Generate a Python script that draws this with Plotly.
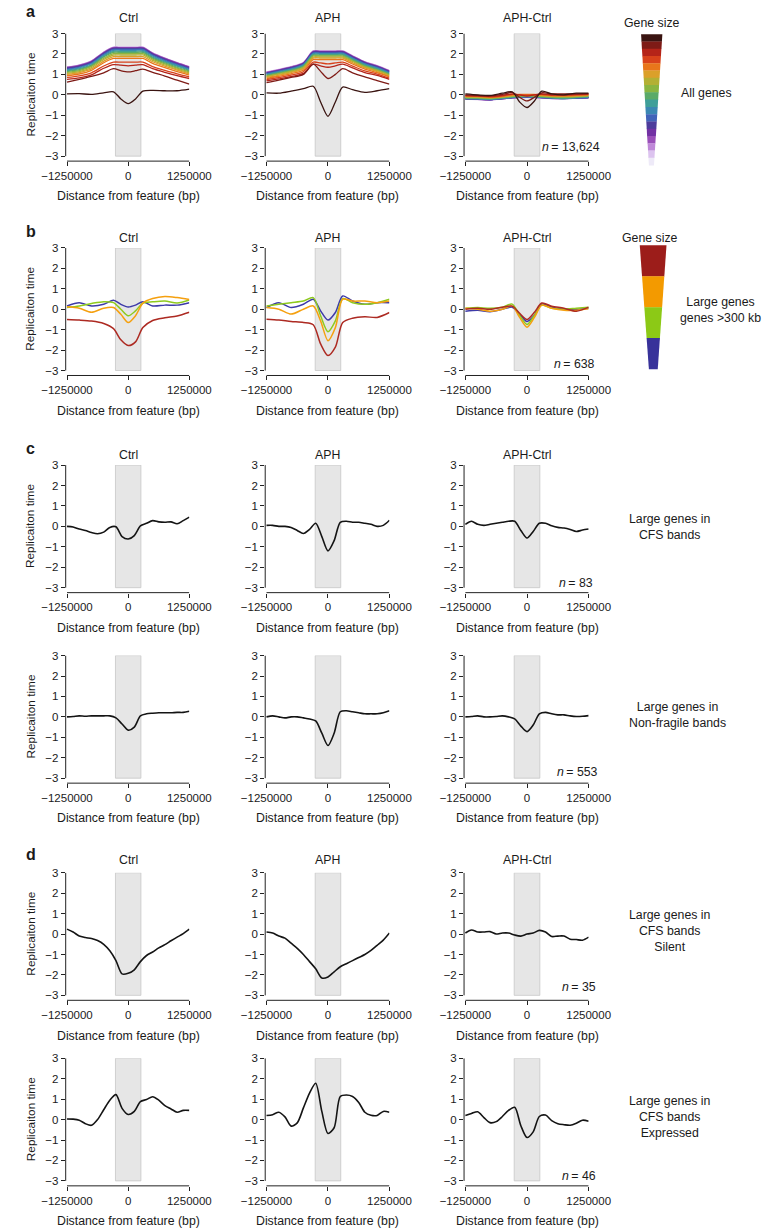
import plotly.graph_objects as go

W, H = 781, 1230

# ---------------- data ----------------
XA_KB = [-1250, -1000, -750, -500, -300, -150, 0, 150, 300, 500, 750, 1000, 1250]
XC_KB = [-1250, -1125, -1000, -875, -750, -625, -500, -375, -250, -125, 0,
         125, 250, 375, 500, 625, 750, 875, 1000, 1125, 1250]
X_TICKS = [-1250000, 0, 1250000]
X_TICK_LABELS = ["\u22121250000", "0", "1250000"]
Y_TICKS = [-3, -2, -1, 0, 1, 2, 3]
Y_TICK_LABELS = ["\u22123", "\u22122", "\u22121", "0", "1", "2", "3"]
BAND_BP = [-260000, 260000]
PANEL_TITLES = ["Ctrl", "APH", "APH-Ctrl"]

# Gene-size palette (largest genes first)
GENE_SIZE_COLORS = ["#3a1411", "#7e1b16", "#b52419", "#d8421b", "#e8761b", "#dba02a",
                    "#b3b034", "#8ab541", "#5aaa68", "#3f9f99", "#3b87b3", "#4163b9",
                    "#4d3c9c", "#7231a3", "#9a4fb9", "#bf88d8", "#dcc3ef", "#eeeaf8"]

ALL_CTRL = [
    [0.05, 0.06, 0.02, 0.10, 0.15, -0.20, -0.43, -0.20, 0.18, 0.22, 0.20, 0.20, 0.28],
    [0.62, 0.76, 0.90, 1.08, 1.28, 1.18, 1.12, 1.18, 1.26, 1.10, 0.92, 0.72, 0.53],
    [0.76, 0.83, 0.98, 1.30, 1.48, 1.45, 1.42, 1.45, 1.48, 1.28, 1.10, 0.94, 0.80],
    [0.85, 0.93, 1.08, 1.41, 1.60, 1.60, 1.60, 1.60, 1.60, 1.38, 1.20, 1.03, 0.88],
    [0.94, 1.02, 1.20, 1.57, 1.78, 1.78, 1.78, 1.78, 1.78, 1.54, 1.33, 1.14, 0.97],
    [1.00, 1.09, 1.27, 1.65, 1.87, 1.87, 1.87, 1.87, 1.87, 1.62, 1.40, 1.21, 1.03],
    [1.05, 1.14, 1.33, 1.73, 1.95, 1.95, 1.95, 1.95, 1.95, 1.69, 1.46, 1.26, 1.08],
    [1.10, 1.19, 1.39, 1.79, 2.02, 2.02, 2.02, 2.02, 2.02, 1.75, 1.52, 1.31, 1.12],
    [1.14, 1.23, 1.43, 1.85, 2.08, 2.08, 2.08, 2.08, 2.08, 1.80, 1.56, 1.35, 1.16],
    [1.18, 1.28, 1.47, 1.89, 2.13, 2.13, 2.13, 2.13, 2.13, 1.85, 1.61, 1.40, 1.20],
    [1.22, 1.32, 1.52, 1.94, 2.18, 2.18, 2.18, 2.18, 2.18, 1.90, 1.65, 1.44, 1.24],
    [1.26, 1.36, 1.56, 1.98, 2.22, 2.22, 2.22, 2.22, 2.22, 1.94, 1.69, 1.48, 1.28],
    [1.29, 1.39, 1.59, 2.02, 2.26, 2.26, 2.26, 2.26, 2.26, 1.98, 1.73, 1.51, 1.31],
    [1.32, 1.42, 1.62, 2.05, 2.29, 2.29, 2.29, 2.29, 2.29, 2.01, 1.76, 1.54, 1.34],
    [1.34, 1.44, 1.64, 2.07, 2.31, 2.31, 2.31, 2.31, 2.31, 2.03, 1.78, 1.56, 1.36],
    [1.35, 1.45, 1.65, 2.08, 2.32, 2.32, 2.32, 2.32, 2.32, 2.04, 1.79, 1.57, 1.37],
    [1.36, 1.46, 1.66, 2.09, 2.33, 2.33, 2.33, 2.33, 2.33, 2.05, 1.80, 1.58, 1.38],
    [1.37, 1.47, 1.67, 2.10, 2.34, 2.34, 2.34, 2.34, 2.34, 2.06, 1.81, 1.59, 1.39],
]
ALL_APH = [
    [0.10, 0.08, 0.18, 0.30, 0.42, -0.35, -1.05, -0.35, 0.38, 0.25, 0.12, 0.20, 0.30],
    [0.60, 0.72, 0.85, 1.00, 1.50, 1.15, 0.80, 1.00, 1.28, 1.08, 0.88, 0.70, 0.52],
    [0.68, 0.78, 0.89, 1.05, 1.50, 1.42, 1.35, 1.42, 1.50, 1.32, 1.09, 0.95, 0.76],
    [0.74, 0.84, 0.96, 1.13, 1.60, 1.56, 1.52, 1.56, 1.60, 1.41, 1.17, 1.02, 0.82],
    [0.80, 0.91, 1.03, 1.21, 1.72, 1.72, 1.72, 1.72, 1.72, 1.51, 1.26, 1.09, 0.88],
    [0.85, 0.96, 1.09, 1.28, 1.80, 1.80, 1.80, 1.80, 1.80, 1.58, 1.32, 1.14, 0.92],
    [0.89, 1.01, 1.13, 1.32, 1.85, 1.85, 1.85, 1.85, 1.85, 1.63, 1.36, 1.18, 0.95],
    [0.92, 1.04, 1.17, 1.36, 1.90, 1.90, 1.90, 1.90, 1.90, 1.67, 1.39, 1.21, 0.98],
    [0.95, 1.07, 1.20, 1.40, 1.94, 1.94, 1.94, 1.94, 1.94, 1.71, 1.43, 1.24, 1.01],
    [0.98, 1.10, 1.23, 1.43, 1.98, 1.98, 1.98, 1.98, 1.98, 1.75, 1.46, 1.28, 1.04],
    [1.01, 1.13, 1.26, 1.46, 2.02, 2.02, 2.02, 2.02, 2.02, 1.78, 1.50, 1.31, 1.07],
    [1.04, 1.16, 1.29, 1.49, 2.05, 2.05, 2.05, 2.05, 2.05, 1.81, 1.53, 1.34, 1.10],
    [1.06, 1.18, 1.32, 1.52, 2.08, 2.08, 2.08, 2.08, 2.08, 1.84, 1.56, 1.37, 1.13],
    [1.08, 1.20, 1.34, 1.54, 2.11, 2.11, 2.11, 2.11, 2.11, 1.87, 1.58, 1.39, 1.15],
    [1.10, 1.22, 1.36, 1.56, 2.13, 2.13, 2.13, 2.13, 2.13, 1.89, 1.60, 1.41, 1.17],
    [1.11, 1.23, 1.37, 1.57, 2.14, 2.14, 2.14, 2.14, 2.14, 1.90, 1.61, 1.42, 1.18],
    [1.12, 1.24, 1.38, 1.58, 2.15, 2.15, 2.15, 2.15, 2.15, 1.91, 1.62, 1.43, 1.19],
    [1.13, 1.25, 1.39, 1.59, 2.16, 2.16, 2.16, 2.16, 2.16, 1.92, 1.63, 1.44, 1.20],
]
ALL_DIFF = [
    [0.05, 0.00, -0.03, 0.08, 0.15, -0.35, -0.62, -0.30, 0.18, 0.05, 0.00, 0.08, 0.08],
    [0.00, -0.03, -0.05, 0.02, 0.12, -0.12, -0.30, -0.12, 0.10, 0.05, 0.05, 0.05, 0.06],
    [-0.03, -0.05, -0.08, -0.03, 0.05, 0.00, -0.06, 0.00, 0.04, 0.00, 0.00, 0.02, 0.04],
    [-0.05, -0.06, -0.10, -0.05, 0.03, 0.00, -0.02, 0.00, 0.03, -0.02, -0.02, 0.00, 0.02],
    [-0.07, -0.08, -0.12, -0.07, 0.00, 0.02, 0.02, 0.02, 0.00, -0.04, -0.05, -0.03, 0.00],
    [-0.09, -0.10, -0.13, -0.09, -0.03, 0.00, 0.00, 0.00, -0.03, -0.06, -0.07, -0.05, -0.02],
    [-0.11, -0.12, -0.15, -0.10, -0.05, -0.03, -0.02, -0.03, -0.05, -0.08, -0.09, -0.07, -0.04],
    [-0.13, -0.14, -0.17, -0.12, -0.07, -0.05, -0.04, -0.05, -0.07, -0.10, -0.11, -0.09, -0.06],
    [-0.15, -0.16, -0.19, -0.14, -0.09, -0.07, -0.06, -0.07, -0.09, -0.12, -0.14, -0.11, -0.08],
    [-0.17, -0.18, -0.21, -0.16, -0.11, -0.09, -0.08, -0.09, -0.11, -0.14, -0.18, -0.13, -0.10],
    [-0.18, -0.19, -0.22, -0.17, -0.12, -0.10, -0.09, -0.10, -0.12, -0.15, -0.18, -0.14, -0.12],
    [-0.19, -0.20, -0.23, -0.18, -0.13, -0.11, -0.10, -0.11, -0.13, -0.16, -0.17, -0.15, -0.13],
    [-0.19, -0.21, -0.23, -0.18, -0.13, -0.11, -0.10, -0.11, -0.13, -0.16, -0.17, -0.15, -0.13],
    [-0.20, -0.21, -0.24, -0.19, -0.14, -0.12, -0.11, -0.12, -0.14, -0.17, -0.17, -0.16, -0.14],
    [-0.20, -0.22, -0.24, -0.19, -0.14, -0.12, -0.11, -0.12, -0.14, -0.17, -0.18, -0.16, -0.14],
    [-0.21, -0.22, -0.25, -0.20, -0.15, -0.13, -0.12, -0.13, -0.15, -0.18, -0.18, -0.17, -0.15],
    [-0.21, -0.23, -0.25, -0.20, -0.15, -0.13, -0.12, -0.13, -0.15, -0.18, -0.19, -0.17, -0.15],
    [-0.22, -0.23, -0.26, -0.21, -0.16, -0.14, -0.13, -0.14, -0.16, -0.19, -0.19, -0.18, -0.16],
]

# Large genes (>300 kb): red (largest), orange, green, blue (smallest)
LARGE_LEGEND_COLORS = ["#9c1d1a", "#f39a00", "#8cc916", "#38329a"]
LARGE_LINE_COLORS = ["#ad2a22", "#f5a00f", "#8fca1e", "#3d3aa8"]
LARGE_CTRL = [
    [-0.50, -0.53, -0.58, -0.70, -0.95, -1.50, -1.78, -1.60, -0.90, -0.55, -0.42, -0.33, -0.15],
    [0.12, 0.05, -0.15, 0.05, 0.08, -0.25, -0.65, -0.32, 0.30, 0.52, 0.62, 0.57, 0.48],
    [0.08, 0.16, 0.28, 0.37, 0.32, 0.00, -0.32, -0.08, 0.30, 0.36, 0.40, 0.30, 0.45],
    [0.16, 0.32, 0.16, 0.24, 0.44, 0.24, 0.11, 0.20, 0.37, 0.16, 0.20, 0.20, 0.32],
]
LARGE_APH = [
    [-0.49, -0.53, -0.60, -0.65, -0.76, -1.70, -2.27, -1.86, -0.65, -0.44, -0.37, -0.40, -0.16],
    [0.08, 0.00, -0.24, 0.00, 0.16, -0.57, -1.54, -0.90, 0.49, 0.40, 0.40, 0.32, 0.40],
    [0.16, 0.24, 0.32, 0.40, 0.57, -0.32, -1.10, -0.57, 0.52, 0.32, 0.24, 0.32, 0.49],
    [0.08, 0.32, 0.08, 0.24, 0.49, -0.08, -0.53, -0.16, 0.65, 0.40, 0.24, 0.32, 0.32],
]
LARGE_DIFF = [
    [0.00, 0.05, 0.00, 0.10, 0.15, -0.20, -0.50, -0.15, 0.30, 0.15, 0.05, -0.10, 0.10],
    [0.05, 0.00, -0.10, 0.00, 0.15, -0.40, -0.88, -0.40, 0.20, 0.05, -0.05, -0.05, 0.02],
    [0.05, 0.08, 0.05, 0.10, 0.25, -0.30, -0.75, -0.30, 0.20, 0.05, 0.00, 0.05, 0.10],
    [-0.10, -0.05, -0.12, 0.00, 0.10, -0.25, -0.60, -0.30, 0.25, 0.10, 0.00, 0.00, 0.05],
]

# Single-profile panels (XC_KB grid)
CFS_CTRL = [0.00, -0.03, -0.13, -0.20, -0.30, -0.36, -0.28, -0.05, -0.02, -0.50, -0.62,
            -0.45, 0.02, 0.15, 0.28, 0.22, 0.20, 0.22, 0.13, 0.28, 0.45]
CFS_APH = [0.05, 0.05, 0.00, 0.00, -0.05, -0.20, -0.35, -0.15, 0.15, -0.50, -1.20,
           -0.70, 0.20, 0.25, 0.20, 0.20, 0.15, 0.10, 0.00, 0.05, 0.30]
CFS_DIFF = [0.10, 0.25, 0.10, 0.05, 0.10, 0.15, 0.20, 0.25, 0.25, -0.20, -0.57,
            -0.25, 0.15, 0.15, 0.03, -0.05, -0.08, -0.15, -0.25, -0.18, -0.13]
NONFRAG_CTRL = [0.00, 0.02, 0.05, 0.03, 0.05, 0.05, 0.05, 0.05, -0.05, -0.35, -0.65,
                -0.50, 0.05, 0.15, 0.18, 0.20, 0.20, 0.20, 0.22, 0.22, 0.28]
NONFRAG_APH = [0.00, 0.05, 0.00, -0.05, 0.00, 0.00, -0.05, -0.10, -0.20, -0.80, -1.40,
               -0.80, 0.25, 0.30, 0.25, 0.20, 0.15, 0.15, 0.15, 0.20, 0.30]
NONFRAG_DIFF = [0.00, 0.02, 0.05, 0.00, 0.00, 0.02, 0.05, 0.00, -0.10, -0.45, -0.72,
                -0.40, 0.15, 0.22, 0.15, 0.10, 0.10, 0.05, 0.02, 0.03, 0.06]
SILENT_CTRL = [0.24, 0.10, -0.10, -0.17, -0.22, -0.32, -0.50, -0.82, -1.30, -1.95, -1.92,
               -1.75, -1.35, -1.05, -0.88, -0.68, -0.52, -0.33, -0.15, 0.02, 0.24]
SILENT_APH = [0.10, 0.05, -0.10, -0.20, -0.45, -0.70, -1.00, -1.35, -1.70, -2.15, -2.10,
              -1.85, -1.60, -1.45, -1.30, -1.15, -1.00, -0.80, -0.55, -0.30, 0.05]
SILENT_DIFF = [0.05, 0.20, 0.10, 0.10, 0.12, 0.00, 0.05, 0.05, -0.05, -0.10, 0.00,
               0.05, 0.18, 0.10, -0.12, -0.10, -0.10, -0.25, -0.27, -0.30, -0.15]
EXPR_CTRL = [0.03, 0.02, -0.03, -0.20, -0.28, 0.00, 0.48, 0.95, 1.22, 0.55, 0.25,
             0.40, 0.88, 0.98, 1.12, 0.95, 0.68, 0.52, 0.36, 0.45, 0.45]
EXPR_APH = [0.20, 0.24, 0.36, 0.13, -0.32, -0.16, 0.57, 1.30, 1.78, 0.40, -0.68,
            -0.40, 1.13, 1.20, 1.13, 0.84, 0.36, 0.21, 0.20, 0.40, 0.36]
EXPR_DIFF = [0.20, 0.30, 0.38, 0.10, -0.15, -0.10, 0.15, 0.45, 0.60, -0.30, -0.88,
             -0.60, 0.15, 0.22, -0.05, -0.20, -0.25, -0.28, -0.18, -0.03, -0.08]

N_LABELS = ["13,624", "638", "83", "553", "35", "46"]
ROW_LABELS = ["All genes", "Large genes<br>genes >300 kb", "Large genes in<br>CFS bands",
              "Large genes in<br>Non-fragile bands", "Large genes in<br>CFS bands<br>Silent",
              "Large genes in<br>CFS bands<br>Expressed"]
PANEL_LETTERS = ["a", "b", "c", "d"]

# ---------------- layout geometry (pixels) ----------------
ROW_TOP = [27.7, 243.3, 461.7, 653.3, 871.7, 1058.3]
PLOT_H = 123.3
AXIS_GAP = 5.0
COL_L = [45.7, 257.7, 469.0]
COL_R = [175.7, 388.3, 600.0]
YAX_GAP = 1.4
TITLE_Y = {0: 12.5, 1: 233.0, 2: 451.5, 4: 859.0}
N_RIGHT = [613.3, 607.3, 605.7, 610.7, 609.3, 609.3]
N_Y = [142.3, 360.0, 580.0, 770.0, 987.0, 1177.0]
RL_X = [725.0, 740.0, 686.0, 694.3, 686.0, 686.0]
RL_Y = [87.3, 305.7, 524.2, 713.3, 930.0, 1117.8]
LETTER_POS = [(0, 5.5), (1, 227.0), (2, 445.0), (3, 853.7)]
XTITLE_OFFSET = 163.8
XTITLE_MAX_Y = 1221.5

FONT = "Liberation Sans, Arial, Helvetica, sans-serif"
TXT = "#1a1a1a"
TXT_SIZE = 12.3
YTITLE_SIZE = 11.8
TICK_SIZE = 11.5


def fx(px):
    return px / W


def fy(py):
    return 1 - py / H


fig = go.Figure()
layout = dict(width=W, height=H, margin=dict(l=0, r=0, t=0, b=0),
              paper_bgcolor="white", plot_bgcolor="white", showlegend=False,
              font=dict(family=FONT, color=TXT))
shapes = []
annotations = []

span = 1250000
yr_low = -3 - AXIS_GAP / PLOT_H * 6


def ax_names(k):
    return ("x", "y") if k == 1 else (f"x{k}", f"y{k}")


def note(x, y, text, size=TXT_SIZE, xanchor="center", **kw):
    d = dict(x=fx(x), y=fy(y), xref="paper", yref="paper", text=text, showarrow=False,
             xanchor=xanchor, yanchor="middle", borderpad=0,
             font=dict(size=size, color=TXT, family=FONT))
    d.update(kw)
    annotations.append(d)


for r in range(6):
    T = ROW_TOP[r]
    for c in range(3):
        k = r * 3 + c + 1
        xn, yn = ax_names(k)
        L, R = COL_L[c], COL_R[c]
        xpad = YAX_GAP / (R - L) * 2 * span
        xkey = "xaxis" if k == 1 else f"xaxis{k}"
        ykey = "yaxis" if k == 1 else f"yaxis{k}"
        layout[xkey] = dict(domain=[fx(L - YAX_GAP), fx(R)], range=[-span - xpad, span],
                            anchor=yn, showgrid=False, zeroline=False, showline=False,
                            tickmode="array", tickvals=X_TICKS, ticktext=X_TICK_LABELS,
                            ticks="outside", ticklen=4, tickwidth=1, tickcolor="#222",
                            tickfont=dict(size=TICK_SIZE, color=TXT, family=FONT),
                            fixedrange=True)
        layout[ykey] = dict(domain=[fy(T + PLOT_H + AXIS_GAP), fy(T)], range=[yr_low, 3],
                            anchor=xn, showgrid=False, zeroline=False, showline=False,
                            tickmode="array", tickvals=Y_TICKS, ticktext=Y_TICK_LABELS,
                            ticks="outside", ticklen=4, tickwidth=1, tickcolor="#222",
                            tickfont=dict(size=TICK_SIZE, color=TXT, family=FONT),
                            fixedrange=True)
        # grey feature band
        shapes.append(dict(type="rect", xref=xn, yref=yn, x0=BAND_BP[0], x1=BAND_BP[1],
                           y0=-3, y1=3, fillcolor="#e6e6e6",
                           line=dict(color="#c6c6c6", width=0.8), layer="below"))
        # R-style detached axis lines
        shapes.append(dict(type="line", xref=f"{xn} domain", yref=yn, x0=0, x1=0,
                           y0=-3, y1=3, line=dict(color="#222", width=1)))
        shapes.append(dict(type="line", xref=xn, yref=f"{yn} domain", x0=-span, x1=span,
                           y0=0, y1=0, line=dict(color="#222", width=1)))
        # x axis title
        note((L + R) / 2, min(T + XTITLE_OFFSET, XTITLE_MAX_Y), "Distance from feature (bp)")
        if r in TITLE_Y:
            note((L + R) / 2, TITLE_Y[r], PANEL_TITLES[c])
    note(7.0, T + PLOT_H / 2, "Replicaiton time", size=YTITLE_SIZE, textangle=-90)
    note(N_RIGHT[r], N_Y[r], f"<i>n</i>\u2009= {N_LABELS[r]}", xanchor="right")
    note(RL_X[r], RL_Y[r], ROW_LABELS[r], align="center")

for li, yc in LETTER_POS:
    note(1.0, yc, f"<b>{PANEL_LETTERS[li]}</b>", size=16, xanchor="left")

# ---------------- traces ----------------
def add_line(k, xs_kb, ys, color, width):
    xn, yn = ax_names(k)
    fig.add_trace(go.Scatter(x=[v * 1000 for v in xs_kb], y=ys, mode="lines",
                             line=dict(color=color, width=width, shape="spline",
                                       smoothing=0.8),
                             xaxis=xn, yaxis=yn, hoverinfo="skip", showlegend=False))


for c, series in enumerate([ALL_CTRL, ALL_APH, ALL_DIFF]):
    for i in range(len(series) - 1, -1, -1):
        add_line(1 + c, XA_KB, series[i], GENE_SIZE_COLORS[i], 1.3)

for c, series in enumerate([LARGE_CTRL, LARGE_APH, LARGE_DIFF]):
    for i in range(len(series) - 1, -1, -1):
        add_line(4 + c, XA_KB, series[i], LARGE_LINE_COLORS[i], 1.5)

single_rows = [[CFS_CTRL, CFS_APH, CFS_DIFF], [NONFRAG_CTRL, NONFRAG_APH, NONFRAG_DIFF],
               [SILENT_CTRL, SILENT_APH, SILENT_DIFF], [EXPR_CTRL, EXPR_APH, EXPR_DIFF]]
for r, row in enumerate(single_rows):
    for c, ys in enumerate(row):
        add_line(7 + r * 3 + c, XC_KB, ys, "#141414", 1.6)

# ---------------- gene-size wedges ----------------
def wedge(colors, top, bottom, cx_top, hw_top, cx_bot, hw_bot):
    n = len(colors)
    for i, col in enumerate(colors):
        t0 = i / n
        t1 = (i + 1) / n
        y0 = top + (bottom - top) * t0
        y1 = top + (bottom - top) * t1
        cx0 = cx_top + (cx_bot - cx_top) * t0
        cx1 = cx_top + (cx_bot - cx_top) * t1
        h0 = hw_top + (hw_bot - hw_top) * t0
        h1 = hw_top + (hw_bot - hw_top) * t1
        path = (f"M {fx(cx0 - h0)},{fy(y0)} L {fx(cx0 + h0)},{fy(y0)} "
                f"L {fx(cx1 + h1)},{fy(y1 + 0.3)} L {fx(cx1 - h1)},{fy(y1 + 0.3)} Z")
        shapes.append(dict(type="path", xref="paper", yref="paper", path=path,
                           fillcolor=col, line=dict(width=0)))


wedge(GENE_SIZE_COLORS, 28.3, 160.0, 667.0, 11.3, 666.7, 2.7)
wedge(LARGE_LEGEND_COLORS, 240.7, 365.0, 668.5, 14.2, 668.7, 4.7)
note(667.3, 16.7, "Gene size")
note(665.7, 233.3, "Gene size")

layout["shapes"] = shapes
layout["annotations"] = annotations
fig.update_layout(**layout)
fig.write_html("out.html",
               config={"displayModeBar": False, "staticPlot": True},
               post_script="document.body.style.margin='0';"
                           "document.body.style.overflow='hidden';")
